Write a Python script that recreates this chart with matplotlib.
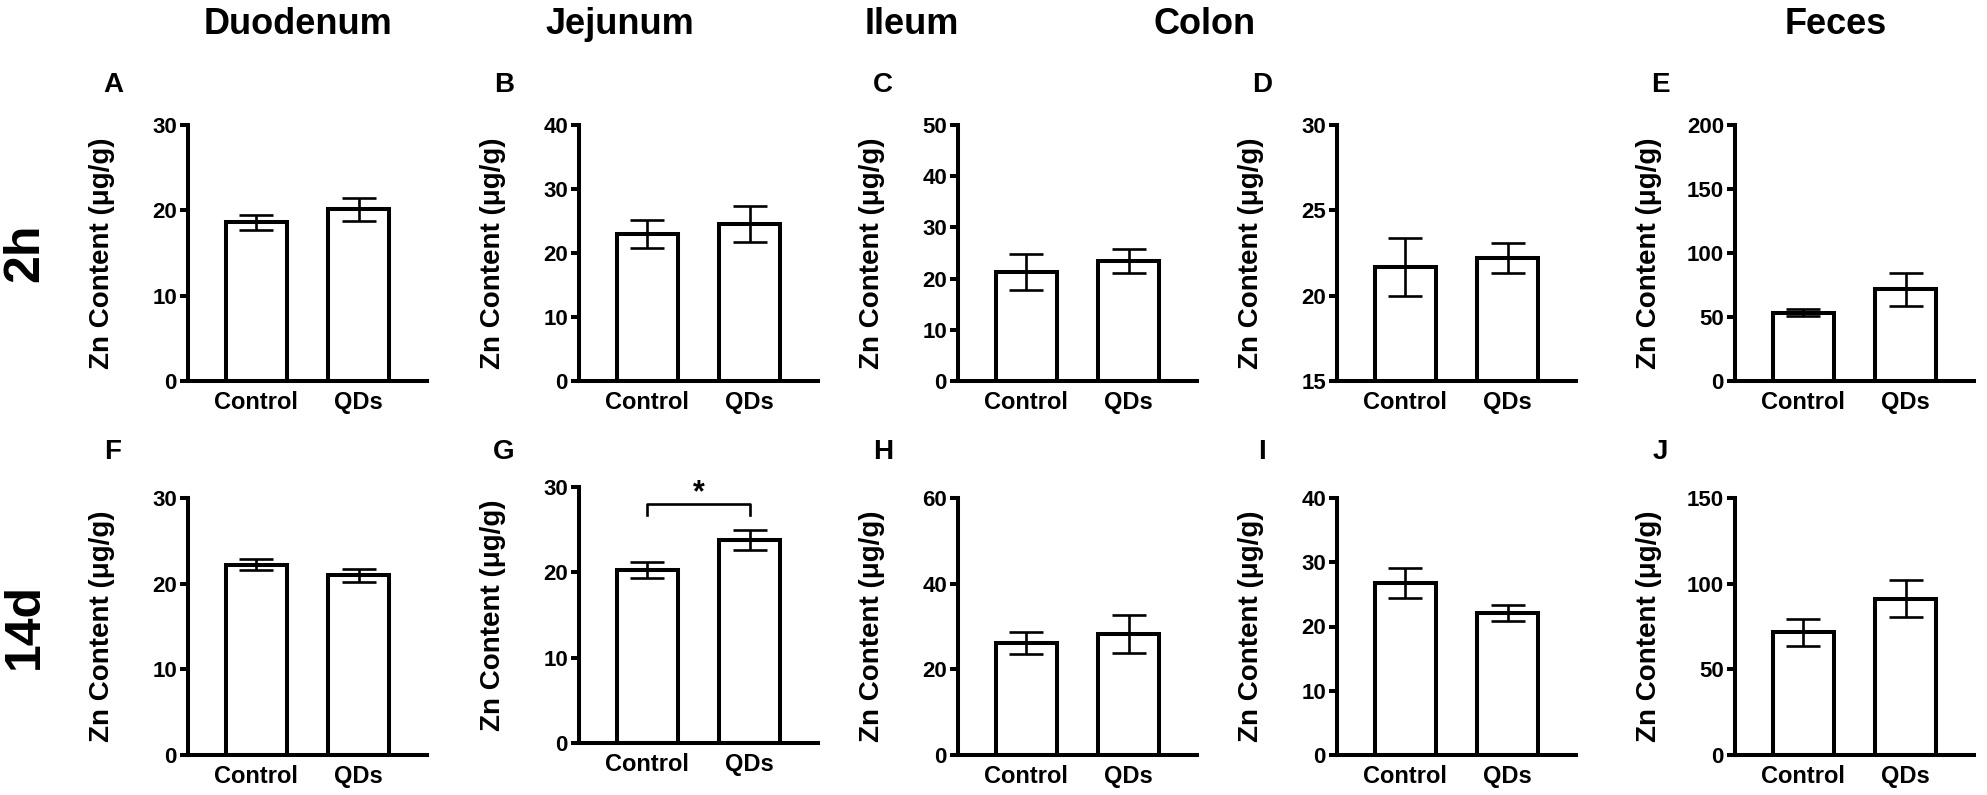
import numpy as np
import matplotlib.pyplot as plt

plt.rcParams['font.family'] = ['Liberation Sans', 'DejaVu Sans']
plt.rcParams['font.weight'] = 'bold'

# ================= DATA =================
groups = ["Control", "QDs"]
tissues = ["Duodenum", "Jejunum", "Ileum", "Colon", "Feces"]
row_names = ["2h", "14d"]
letters = [["A", "B", "C", "D", "E"], ["F", "G", "H", "I", "J"]]

# 2h
mean_2h = [[18.6, 20.1], [23.0, 24.5], [21.3, 23.4], [21.7, 22.2], [53.5, 71.5]]
err_2h = [[0.85, 1.35], [2.2, 2.8], [3.6, 2.4], [1.7, 0.9], [3.0, 12.7]]
ylim_2h = [(0, 30), (0, 40), (0, 50), (15, 30), (0, 200)]
ystep_2h = [10, 10, 10, 5, 50]

# 14d
mean_14d = [[22.2, 21.0], [20.3, 23.8], [26.1, 28.2], [26.8, 22.1], [71.7, 91.3]]
err_14d = [[0.65, 0.75], [0.95, 1.15], [2.5, 4.5], [2.3, 1.25], [7.8, 11.0]]
ylim_14d = [(0, 30), (0, 30), (0, 60), (0, 40), (0, 150)]
ystep_14d = [10, 10, 20, 10, 50]

# significance in panel G (control vs QDs)
sig_bracket_y = 28.05
sig_leg_y = 26.7

# ================= LAYOUT (pixel based) =================
W, H = 1987, 795
fig = plt.figure(figsize=(W / 100, H / 100), dpi=100)

spine_x = [188, 579, 958, 1337, 1735]
ax_w = 239
row_box = [[(125, 381)] * 5,
           [(498, 755), (487, 743), (498, 755), (498, 755), (498, 755)]]
title_x = [298, 620, 912, 1205, 1836]

LW = 2.9
all_means = [mean_2h, mean_14d]
all_errs = [err_2h, err_14d]
all_ylims = [ylim_2h, ylim_14d]
all_steps = [ystep_2h, ystep_14d]

axes = {}
for r in range(2):
    for c in range(5):
        top, bot = row_box[r][c]
        ax = fig.add_axes([spine_x[c] / W, 1 - bot / H, ax_w / W, (bot - top) / H])
        axes[letters[r][c]] = ax
        x = np.arange(len(groups))
        lo, hi = all_ylims[r][c]
        ax.bar(x, all_means[r][c], width=0.6, color='white', edgecolor='black',
               linewidth=LW, zorder=2)
        ax.errorbar(x, all_means[r][c], yerr=all_errs[r][c], fmt='none',
                    ecolor='black', elinewidth=1.9, capsize=12, capthick=1.9, zorder=3)
        ax.set_xlim(-0.67, 1.67)
        ax.set_ylim(lo, hi)
        ax.set_yticks(np.arange(lo, hi + 0.1, all_steps[r][c]))
        ax.set_xticks(x)
        ax.set_xticklabels(groups)
        for s in ['top', 'right']:
            ax.spines[s].set_visible(False)
        for s in ['left', 'bottom']:
            ax.spines[s].set_linewidth(LW)
        ax.tick_params(axis='y', length=6, width=LW, labelsize=16, pad=2)
        ax.tick_params(axis='x', length=0, labelsize=17, pad=7)
        ax.set_ylabel("Zn Content (μg/g)", fontsize=20, fontweight='bold')
        ax.yaxis.set_label_coords(-0.305, 0.5)
        # panel letter
        ly = top - 40 if r == 0 else 452
        fig.text((spine_x[c] - 75) / W, 1 - ly / H, letters[r][c], fontsize=20,
                 fontweight='bold', ha='center', va='center')

# column titles
for c, name in enumerate(tissues):
    fig.text(title_x[c] / W, 1 - 25 / H, name, fontsize=26,
             fontweight='bold', ha='center', va='center')

# row labels
fig.text(25 / W, 1 - 253 / H, row_names[0], fontsize=36, fontweight='bold',
         rotation=90, ha='center', va='center')
fig.text(25 / W, 1 - 626 / H, row_names[1], fontsize=36, fontweight='bold',
         rotation=90, ha='center', va='center')

# significance bracket in G
axG = axes["G"]
axG.plot([0, 0, 1, 1], [sig_leg_y, sig_bracket_y, sig_bracket_y, sig_leg_y],
         color='black', linewidth=1.9, clip_on=False)
axG.text(0.5, 28.3, "*", fontsize=22, fontweight='bold', ha='center', va='baseline')

fig.savefig("out.png", dpi=100)
